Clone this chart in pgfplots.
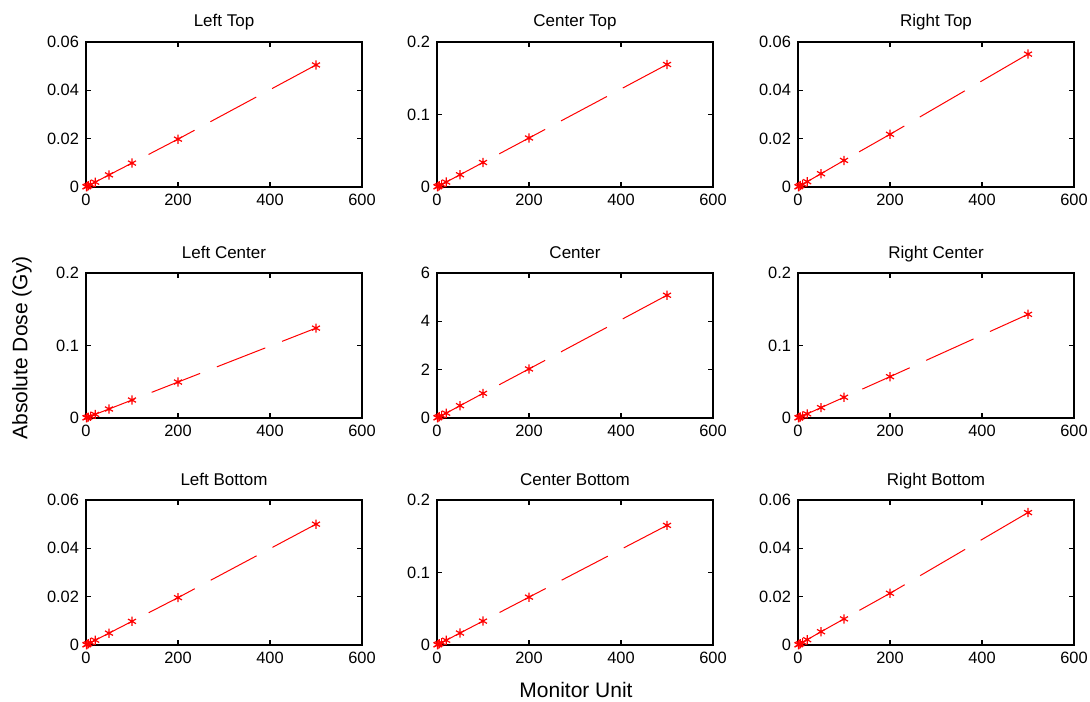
\documentclass[border=0pt]{standalone}
\usepackage{fontspec}
\setmainfont{Liberation Sans}
\usepackage{pgfplots}
\pgfplotsset{compat=1.18}

\pgfplotsset{
  panel/.style={
    scale only axis, width=138pt, height=72.5pt, anchor=south west,
    xmin=0, xmax=600, ymin=0, xtick={0,200,400,600},
    axis line style={line width=0.9pt}, tick style={line width=0.6pt, black},
    tick align=inside, major tick length=2.5pt,
    xtick pos=both, ytick pos=both, xticklabel pos=lower, yticklabel pos=left,
    ticklabel style={font=\fontsize{8.2}{9}\selectfont},
    /pgf/number format/assume math mode=true,
    /pgf/number format/fixed,
    scaled y ticks=false,
    title style={font=\fontsize{8.5}{10}\selectfont, at={(0.5,1)}, anchor=base, yshift=1.5pt},
  },
  dose/.style={red, line width=0.5pt,
    dash pattern=on 26pt off 9pt, mark=asterisk, mark size=2.3pt,
    mark options={solid, line width=0.6pt}},
}

\begin{document}
\begin{tikzpicture}
\useasboundingbox (0,0) rectangle (545pt,-350.5pt);

% row 1
\begin{axis}[panel, at={(43pt,-93.5pt)}, title={Left Top}, ymax=0.06, ytick={0,0.02,0.04,0.06}]
\addplot[dose] coordinates {(1,0.0001) (2,0.0002) (5,0.0005) (10,0.0010) (20,0.0020) (50,0.0050) (100,0.0099) (200,0.0198) (500,0.0505)};
\end{axis}
\begin{axis}[panel, at={(218.5pt,-93.5pt)}, title={Center Top}, ymax=0.2, ytick={0,0.1,0.2}]
\addplot[dose] coordinates {(1,0.0003) (2,0.0007) (5,0.0017) (10,0.0034) (20,0.0068) (50,0.0169) (100,0.0338) (200,0.0676) (500,0.169)};
\end{axis}
\begin{axis}[panel, at={(399pt,-93.5pt)}, title={Right Top}, ymax=0.06, ytick={0,0.02,0.04,0.06}]
\addplot[dose] coordinates {(1,0.0001) (2,0.0002) (5,0.0006) (10,0.0011) (20,0.0022) (50,0.0055) (100,0.0110) (200,0.0218) (500,0.0550)};
\end{axis}

% row 2
\begin{axis}[panel, at={(43pt,-209pt)}, title={Left Center}, ymax=0.2, ytick={0,0.1,0.2}]
\addplot[dose] coordinates {(1,0.0003) (2,0.0005) (5,0.0012) (10,0.0025) (20,0.0050) (50,0.0124) (100,0.0248) (200,0.0496) (500,0.124)};
\end{axis}
\begin{axis}[panel, at={(218.5pt,-209pt)}, title={Center}, ymax=6, ytick={0,2,4,6}]
\addplot[dose] coordinates {(1,0.01) (2,0.02) (5,0.05) (10,0.10) (20,0.20) (50,0.51) (100,1.02) (200,2.03) (500,5.08)};
\end{axis}
\begin{axis}[panel, at={(399pt,-209pt)}, title={Right Center}, ymax=0.2, ytick={0,0.1,0.2}]
\addplot[dose] coordinates {(1,0.0003) (2,0.0006) (5,0.0014) (10,0.0029) (20,0.0057) (50,0.0143) (100,0.0286) (200,0.0570) (500,0.143)};
\end{axis}

% row 3
\begin{axis}[panel, at={(43pt,-322.5pt)}, title={Left Bottom}, ymax=0.06, ytick={0,0.02,0.04,0.06}]
\addplot[dose] coordinates {(1,0.0001) (2,0.0002) (5,0.0005) (10,0.0010) (20,0.0020) (50,0.0049) (100,0.0098) (200,0.0196) (500,0.0500)};
\end{axis}
\begin{axis}[panel, at={(218.5pt,-322.5pt)}, title={Center Bottom}, ymax=0.2, ytick={0,0.1,0.2}]
\addplot[dose] coordinates {(1,0.0003) (2,0.0007) (5,0.0017) (10,0.0033) (20,0.0066) (50,0.0165) (100,0.0330) (200,0.0660) (500,0.165)};
\end{axis}
\begin{axis}[panel, at={(399pt,-322.5pt)}, title={Right Bottom}, ymax=0.06, ytick={0,0.02,0.04,0.06}]
\addplot[dose] coordinates {(1,0.0001) (2,0.0002) (5,0.0005) (10,0.0011) (20,0.0022) (50,0.0055) (100,0.0108) (200,0.0214) (500,0.0548)};
\end{axis}

\node[rotate=90, font=\fontsize{10.5}{12}\selectfont] at (11pt,-174pt) {Absolute Dose (Gy)};
\node[font=\fontsize{10.5}{12}\selectfont] at (288pt,-345pt) {Monitor Unit};
\end{tikzpicture}
\end{document}
